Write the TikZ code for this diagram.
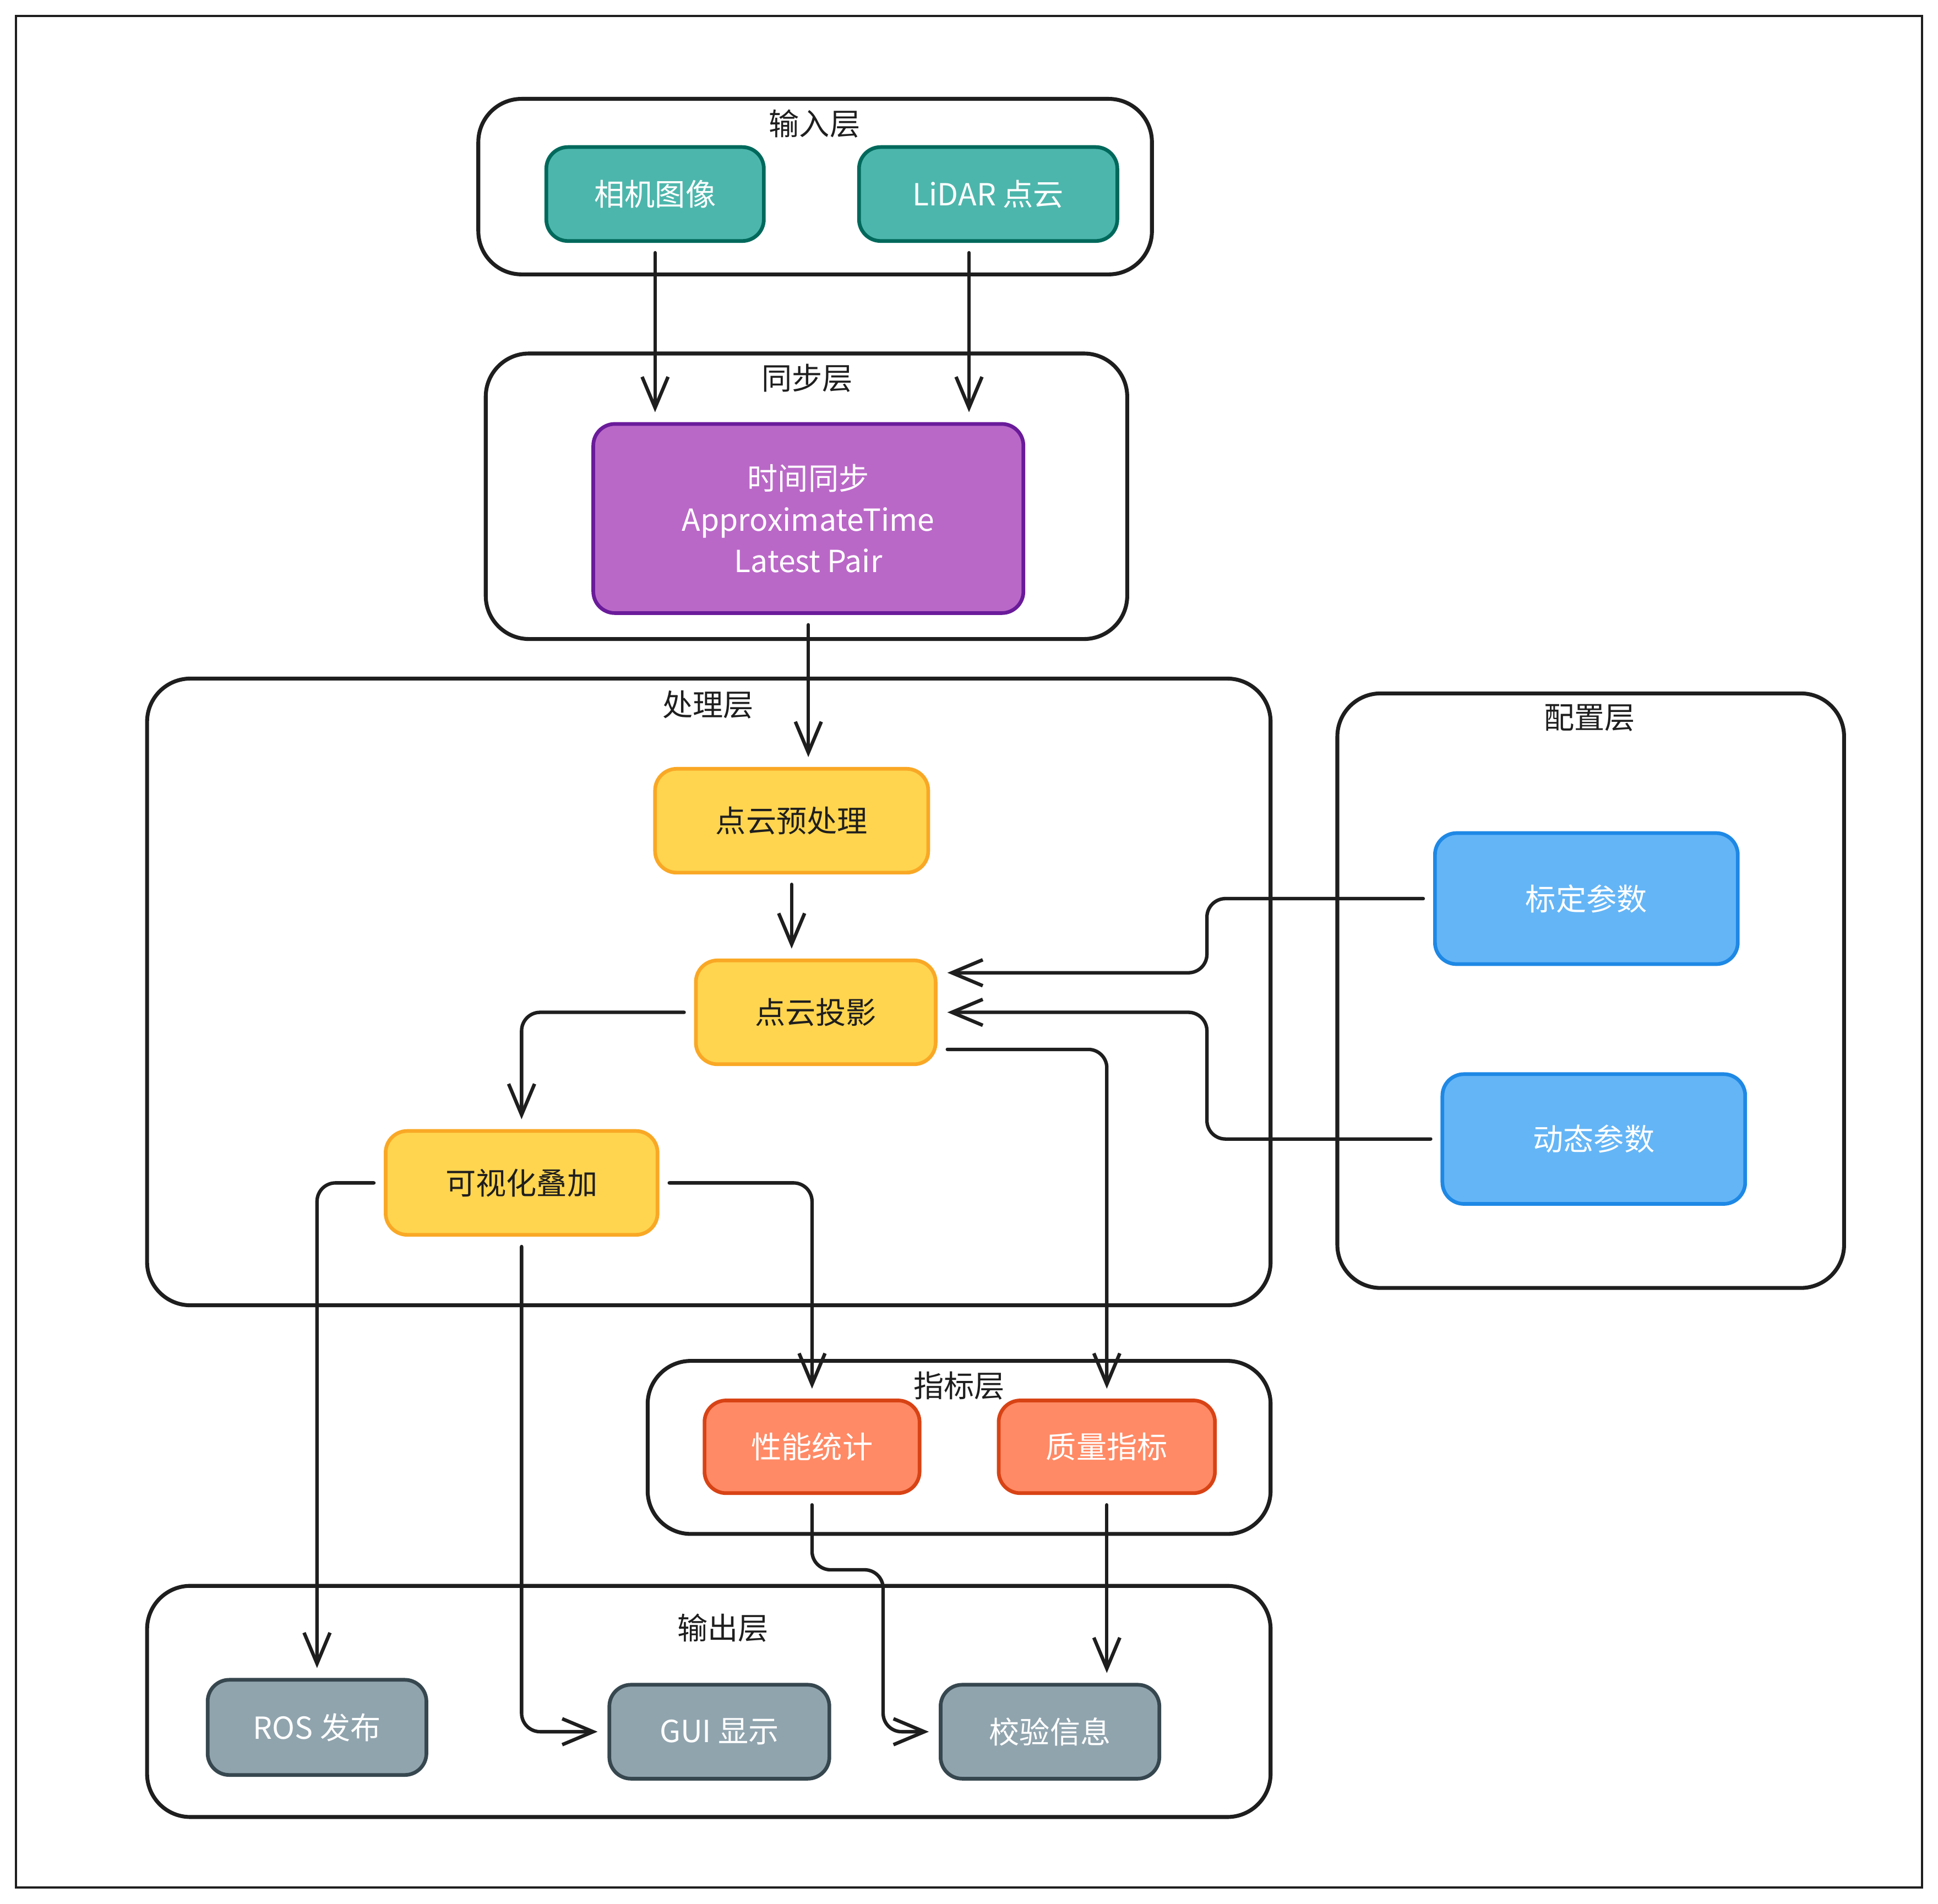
\documentclass[tikz,border=0pt]{standalone}
\usepackage{fontspec}
\newfontfamily\cjk{Noto Sans CJK SC}
\usetikzlibrary{arrows.meta, calc}
\definecolor{ink}{HTML}{1E1E1E}
\definecolor{tealfill}{HTML}{4DB6AC}
\definecolor{tealline}{HTML}{00695C}
\definecolor{purplefill}{HTML}{BA68C8}
\definecolor{purpleline}{HTML}{6A1B9A}
\definecolor{yellowfill}{HTML}{FFD54F}
\definecolor{yellowline}{HTML}{F9A825}
\definecolor{bluefill}{HTML}{64B5F6}
\definecolor{blueline}{HTML}{1E88E5}
\definecolor{orangefill}{HTML}{FF8A65}
\definecolor{orangeline}{HTML}{D84315}
\definecolor{greyfill}{HTML}{90A4AE}
\definecolor{greyline}{HTML}{37474F}
\tikzset{
    layer/.style={rectangle, draw=ink, line width=1.8pt, rounded corners=0.7cm},
    layertitle/.style={font=\cjk\fontsize{14}{17}\selectfont, text=ink},
    block/.style={rectangle, line width=1.7pt, rounded corners=0.35cm, inner sep=0pt, align=center, font=\cjk\fontsize{14}{19}\selectfont, text=white},
    inputbox/.style={block, draw=tealline, fill=tealfill},
    syncbox/.style={block, draw=purpleline, fill=purplefill},
    procbox/.style={block, draw=yellowline, fill=yellowfill, text=ink},
    cfgbox/.style={block, draw=blueline, fill=bluefill},
    metricbox/.style={block, draw=orangeline, fill=orangefill},
    outbox/.style={block, draw=greyline, fill=greyfill},
    arrow/.style={-{Straight Barb[length=0.5cm, width=0.42cm]}, draw=ink, line width=1.6pt, line cap=round, line join=round, rounded corners=0.3cm, shorten <=0.16cm, shorten >=0.16cm},
}

\begin{document}
\begin{tikzpicture}
    \useasboundingbox (0,0) rectangle (31.36,30.80);
    \draw[ink, line width=1pt] (0.26,0.26) rectangle (31.10,30.54);

    % layers
    \node[layer, minimum width=10.90cm, minimum height=2.84cm] (inlayer) at (13.19,27.78) {};
    \node[layertitle] (intitle) at (13.18,28.80) {输入层};
    \node[layer, minimum width=10.38cm, minimum height=4.62cm] (synclayer) at (13.05,22.77) {};
    \node[layertitle] (synctitle) at (13.06,24.68) {同步层};
    \node[layer, minimum width=18.18cm, minimum height=10.14cm] (proclayer) at (11.47,14.75) {};
    \node[layertitle] (proctitle) at (11.46,19.40) {处理层};
    \node[layer, minimum width=8.20cm, minimum height=9.62cm] (cfglayer) at (25.74,14.77) {};
    \node[layertitle] (cfgtitle) at (25.72,19.18) {配置层};
    \node[layer, minimum width=10.08cm, minimum height=2.80cm] (metriclayer) at (15.52,7.38) {};
    \node[layertitle] (metrictitle) at (15.52,8.38) {指标层};
    \node[layer, minimum width=18.18cm, minimum height=3.74cm] (outlayer) at (11.47,3.27) {};
    \node[layertitle] (outtitle) at (11.70,4.46) {输出层};

    % blocks
    \node[inputbox, minimum width=3.52cm, minimum height=1.52cm] (cam) at (10.60,27.66) {相机图像};
    \node[inputbox, minimum width=4.18cm, minimum height=1.52cm] (lidar) at (15.99,27.66) {LiDAR 点云};
    \node[syncbox, minimum width=6.96cm, minimum height=3.06cm] (sync) at (13.08,22.41) {时间同步\\ApproximateTime\\Latest Pair};
    \node[procbox, minimum width=4.42cm, minimum height=1.68cm] (pre) at (12.81,17.52) {点云预处理};
    \node[procbox, minimum width=3.88cm, minimum height=1.68cm] (proj) at (13.20,14.42) {点云投影};
    \node[procbox, minimum width=4.40cm, minimum height=1.68cm] (vis) at (8.44,11.66) {可视化叠加};
    \node[cfgbox, minimum width=4.90cm, minimum height=2.12cm] (calib) at (25.67,16.26) {标定参数};
    \node[cfgbox, minimum width=4.90cm, minimum height=2.10cm] (dyn) at (25.79,12.37) {动态参数};
    \node[metricbox, minimum width=3.48cm, minimum height=1.50cm] (perf) at (13.14,7.39) {性能统计};
    \node[metricbox, minimum width=3.50cm, minimum height=1.50cm] (qual) at (17.91,7.39) {质量指标};
    \node[outbox, minimum width=3.54cm, minimum height=1.54cm] (ros) at (5.13,2.85) {ROS 发布};
    \node[outbox, minimum width=3.56cm, minimum height=1.52cm] (gui) at (11.64,2.78) {GUI 显示};
    \node[outbox, minimum width=3.54cm, minimum height=1.52cm] (check) at (16.99,2.78) {校验信息};

    % connectors
    \coordinate (lidarout) at ([xshift=-0.31cm]lidar.south);
    \draw[arrow] (cam.south) -- (cam.south |- sync.north);
    \draw[arrow] (lidarout) -- (lidarout |- sync.north);
    \draw[arrow] (sync.south) -- (sync.south |- pre.north);
    \draw[arrow] (pre.south) -- (pre.south |- proj.north);
    \draw[arrow] (calib.west) -| ([xshift=4.36cm, yshift=0.64cm]proj.east) -- ([yshift=0.64cm]proj.east);
    \draw[arrow] (dyn.west) -| ([xshift=4.36cm]proj.east) -- (proj.east);
    \draw[arrow] (proj.west) -| (vis.north);
    \draw[arrow] ([yshift=-0.6cm]proj.east) -| (qual.north);
    \draw[arrow] (vis.east) -| (perf.north);
    \draw[arrow] (vis.west) -| (ros.north);
    \draw[arrow] (vis.south) |- (gui.west);
    \draw[arrow] (perf.south) |- ([xshift=-0.9cm, yshift=2.62cm]check.west) |- (check.west);
    \draw[arrow] (qual.south) -- (qual.south |- check.north);
\end{tikzpicture}
\end{document}
